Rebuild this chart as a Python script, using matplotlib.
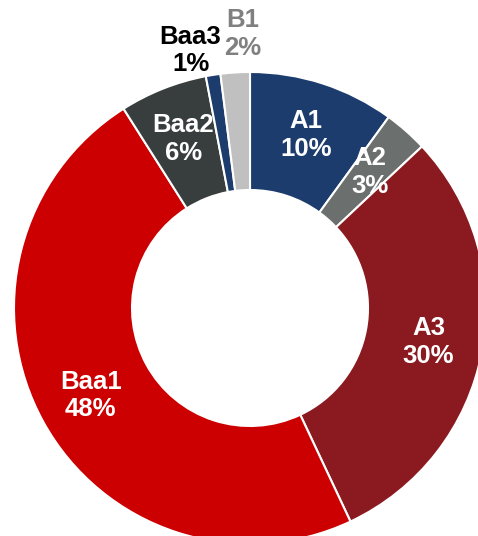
import matplotlib.pyplot as plt
import numpy as np

# Rating distribution
ratings = ["A1", "A2", "A3", "Baa1", "Baa2", "Baa3", "B1"]
shares = [10, 3, 30, 48, 6, 1, 2]
colors = ["#1b3c6c", "#6b706f", "#8b1a20", "#cc0000", "#383d3d", "#1b3c6c", "#c0c0c0"]
label_colors = ["white", "white", "white", "white", "white", "black", "#808080"]

fig = plt.figure(figsize=(4.78, 5.36), dpi=100)
ax = fig.add_axes([0, 0, 1, 1])

wedges, _ = ax.pie(shares, colors=colors, startangle=90, counterclock=False,
                   radius=1.0, wedgeprops=dict(width=0.5, edgecolor="white", linewidth=1.5))

# label placement: inside ring for most, outside for the tiny slices
for i, w in enumerate(wedges):
    ang = np.deg2rad((w.theta1 + w.theta2) / 2)
    if ratings[i] == "Baa3":
        r, ang = 1.12, ang + np.deg2rad(4)
    elif ratings[i] == "B1":
        r, ang = 1.16, ang - np.deg2rad(2)
    else:
        r = 0.77
    ax.text(r * np.cos(ang), r * np.sin(ang), f"{ratings[i]}\n{shares[i]}%",
            ha="center", va="center", fontsize=18.5, fontweight="bold",
            family="Liberation Sans", color=label_colors[i], linespacing=1.2)

# crop like the original (center at 250,308 px, radius 236 px)
R = 236.0
ax.set_xlim(-250 / R, (478 - 250) / R)
ax.set_ylim(-(536 - 308) / R, 308 / R)
ax.set_aspect("equal")
ax.axis("off")

plt.savefig("out.png", dpi=100)
